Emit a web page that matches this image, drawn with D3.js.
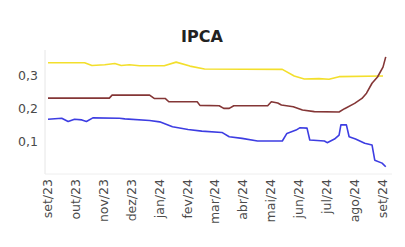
<!DOCTYPE html>
<html>
<head>
<meta charset="utf-8">
<script src="https://cdn.jsdelivr.net/npm/d3@7"></script>
<style>
  body { margin: 0; background: #fff; }
  svg { display: block; font-family: "DejaVu Sans", sans-serif; }
</style>
</head>
<body>
<div id="chart"></div>
<script>
// --- dados ---
const amareloDatas = ["2023-09-01","2023-10-11","2023-10-19","2023-11-02","2023-11-13","2023-11-20","2023-11-29",
  "2023-12-10","2024-01-06","2024-01-19","2024-02-03","2024-02-19","2024-05-14","2024-05-27","2024-06-07",
  "2024-06-23","2024-07-04","2024-07-15","2024-09-01"];
const amareloValores = [0.340,0.340,0.332,0.334,0.338,0.332,0.334,
  0.331,0.331,0.342,0.330,0.321,0.320,0.300,0.291,
  0.292,0.290,0.298,0.300];

const vermelhoDatas = ["2023-09-01","2023-11-07","2023-11-10","2023-12-21","2023-12-26","2024-01-07","2024-01-11",
  "2024-02-11","2024-02-14","2024-03-06","2024-03-11","2024-03-17","2024-03-22","2024-04-28","2024-05-02",
  "2024-05-09","2024-05-13","2024-05-26","2024-06-05","2024-06-18","2024-07-15","2024-07-21","2024-08-01",
  "2024-08-09","2024-08-14","2024-08-20","2024-08-26","2024-09-01","2024-09-04"];
const vermelhoValores = [0.233,0.233,0.242,0.242,0.232,0.232,0.222,
  0.222,0.211,0.210,0.202,0.202,0.210,0.210,0.222,
  0.218,0.212,0.207,0.197,0.192,0.191,0.201,0.217,
  0.232,0.248,0.278,0.297,0.327,0.358];

const azulDatas = ["2023-09-01","2023-09-16","2023-09-23","2023-09-30","2023-10-08","2023-10-13","2023-10-20",
  "2023-11-18","2023-11-24","2023-12-21","2024-01-01","2024-01-15","2024-02-01","2024-02-16","2024-03-09",
  "2024-03-17","2024-03-31","2024-04-17","2024-05-14","2024-05-19","2024-05-29","2024-06-02","2024-06-10",
  "2024-06-13","2024-06-29","2024-07-02","2024-07-10","2024-07-15","2024-07-17","2024-07-23","2024-07-26",
  "2024-08-02","2024-08-12","2024-08-20","2024-08-23","2024-08-31","2024-09-04"];
const azulValores = [0.169,0.172,0.162,0.169,0.167,0.162,0.173,
  0.172,0.170,0.165,0.161,0.146,0.138,0.133,0.129,
  0.116,0.111,0.103,0.103,0.126,0.136,0.143,0.142,
  0.106,0.103,0.098,0.109,0.121,0.152,0.152,0.116,
  0.109,0.096,0.091,0.045,0.036,0.025];

const rotulosMeses = ["set/23","out/23","nov/23","dez/23","jan/24","fev/24","mar/24",
  "abr/24","mai/24","jun/24","jul/24","ago/24","set/24"];
const ticksY = [0.1, 0.2, 0.3];

// --- layout ---
const width = 405, height = 247;
const margin = { top: 50, right: 18, bottom: 74, left: 45 };

const parse = d3.timeParse("%Y-%m-%d");
const series = [
  { cor: "#f3df2c", datas: amareloDatas, valores: amareloValores },
  { cor: "#843636", datas: vermelhoDatas, valores: vermelhoValores },
  { cor: "#3d3de2", datas: azulDatas, valores: azulValores }
].map(s => ({ cor: s.cor, pts: s.datas.map((d, i) => ({ x: parse(d), y: s.valores[i] })) }));

const svg = d3.select("#chart").append("svg")
  .attr("width", width)
  .attr("height", height);

const x = d3.scaleTime()
  .domain([new Date(2023, 8, 1), new Date(2024, 8, 1)])
  .range([48, 383]);

const y = d3.scaleLinear()
  .domain([0.0, 0.3])
  .range([175, 76]);

// eixos (linhas cinza claro)
svg.append("line")
  .attr("x1", margin.left).attr("x2", margin.left)
  .attr("y1", margin.top).attr("y2", 174)
  .attr("stroke", "#e6e6e6").attr("stroke-width", 1);
svg.append("line")
  .attr("x1", margin.left).attr("x2", 392)
  .attr("y1", 174).attr("y2", 174)
  .attr("stroke", "#eeeeee").attr("stroke-width", 1);

// rótulos do eixo y
svg.append("g").selectAll("text")
  .data(ticksY)
  .join("text")
  .attr("x", 38)
  .attr("y", d => y(d))
  .attr("dy", "0.35em")
  .attr("text-anchor", "end")
  .attr("font-size", 12.5)
  .attr("fill", "#4a4a4a")
  .text(d => d3.format(".1f")(d).replace(".", ","));

// rótulos do eixo x (rotacionados)
const meses = d3.range(13).map(i => new Date(2023, 8 + i, 1));
svg.append("g").selectAll("text")
  .data(meses)
  .join("text")
  .attr("transform", d => `translate(${x(d)},179) rotate(-90)`)
  .attr("dy", "0.35em")
  .attr("text-anchor", "end")
  .attr("font-size", 12.5)
  .attr("fill", "#4a4a4a")
  .text((d, i) => rotulosMeses[i]);

// linhas
const line = d3.line()
  .x(d => x(d.x))
  .y(d => y(d.y));

svg.append("g").selectAll("path")
  .data(series)
  .join("path")
  .attr("d", d => line(d.pts))
  .attr("fill", "none")
  .attr("stroke", d => d.cor)
  .attr("stroke-width", 1.6)
  .attr("stroke-linejoin", "round");

// título
svg.append("text")
  .attr("x", 202)
  .attr("y", 42)
  .attr("text-anchor", "middle")
  .attr("font-size", 16)
  .attr("font-weight", "bold")
  .attr("fill", "#222")
  .text("IPCA");
</script>
</body>
</html>
